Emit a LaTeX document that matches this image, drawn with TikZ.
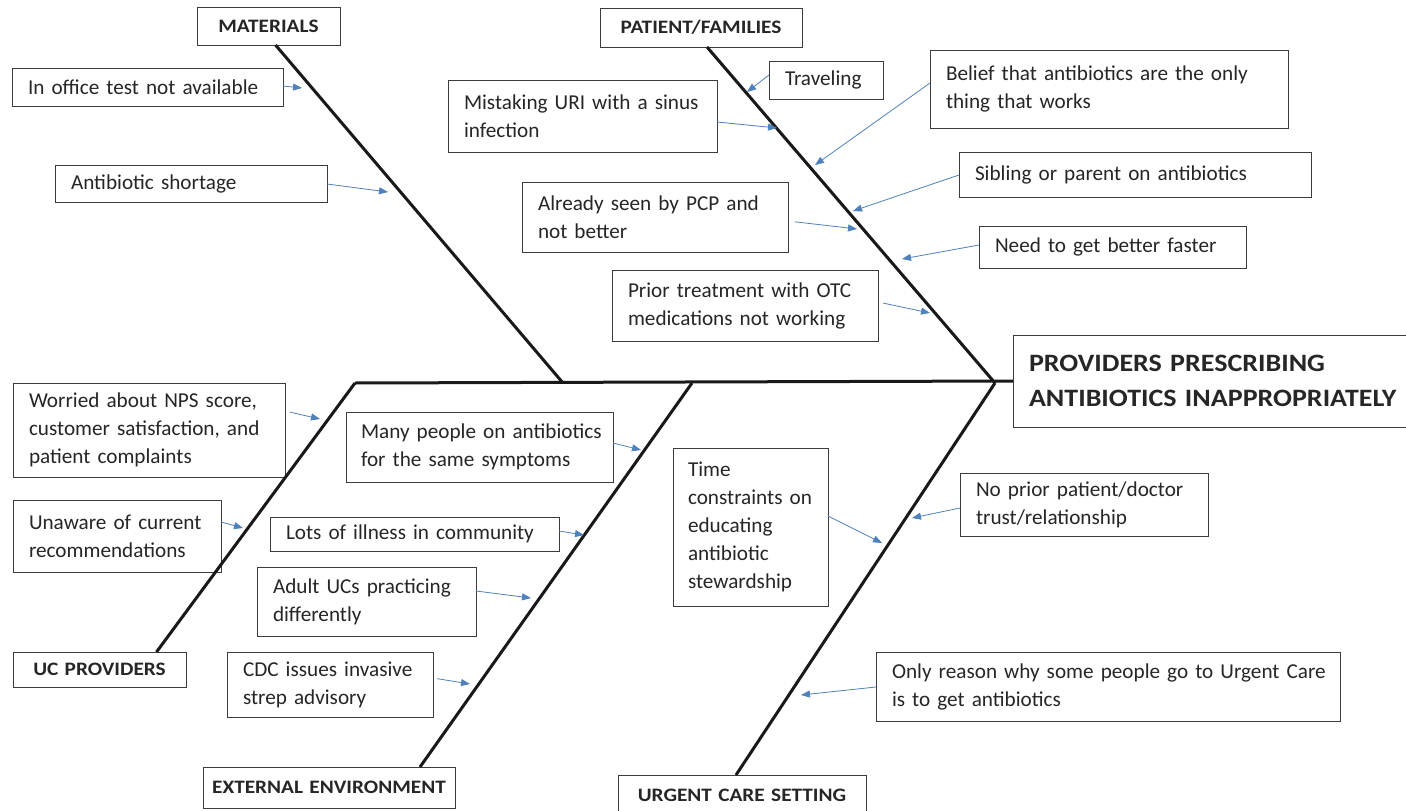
\documentclass[tikz,border=0pt]{standalone}
\usepackage{fontspec}
\setmainfont{Carlito}
\newfontfamily\lblfont{Carlito}[FakeStretch=1.12]
\usetikzlibrary{arrows.meta}
\definecolor{arr}{RGB}{79,129,189}
\definecolor{edgec}{RGB}{60,60,60}
\hyphenpenalty=10000
\exhyphenpenalty=10000
\hbadness=10000
\hfuzz=50pt
\begin{document}
\begin{tikzpicture}[x=1pt,y=-1pt,
  box/.style={draw=edgec, line width=1pt, outer sep=0pt, inner xsep=16pt, inner ysep=0pt,
    anchor=north west, align=left, text=black!85, font=\fontsize{21.2}{28}\selectfont},
  lbl/.style={box, inner xsep=0pt, align=center, font=\lblfont\bfseries\fontsize{19}{24}\selectfont},
  bone/.style={line width=3pt, black!90},
  cause/.style={-{Triangle[length=9pt,width=7pt]}, arr, line width=0.8pt}]
\useasboundingbox (0,0) rectangle (1406,811);
\fill[white] (0,0) rectangle (1406,811);

% category labels
\node[lbl, minimum width=143pt, minimum height=38pt, text width=143pt] (materials) at (197,7) {MATERIALS};
\node[lbl, minimum width=202pt, minimum height=39pt, text width=202pt] (patient) at (600,8) {PATIENT/FAMILIES};
\node[lbl, minimum width=173pt, minimum height=35pt, text width=173pt] (ucprov) at (13,652) {UC PROVIDERS};
\node[lbl, minimum width=252pt, minimum height=41pt, text width=252pt] (extenv) at (203,767) {EXTERNAL ENVIRONMENT};
\node[lbl, minimum width=248pt, minimum height=40pt, text width=248pt] (urgent) at (618,775) {URGENT CARE SETTING};

% effect
\node[box, minimum width=400pt, minimum height=92pt, text width=368pt,
  font=\lblfont\bfseries\fontsize{25}{35}\selectfont] (effect) at (1013,335)
  {PROVIDERS PRESCRIBING\\ANTIBIOTICS INAPPROPRIATELY};

% causes
\node[box, minimum width=271pt, minimum height=38pt, text width=239pt] (inoffice) at (12,68) {In office test not available};
\node[box, minimum width=272pt, minimum height=37pt, text width=240pt] (shortage) at (55,165) {Antibiotic shortage};
\node[box, minimum width=114pt, minimum height=38pt, text width=82pt] (travel) at (769,61) {Traveling};
\node[box, minimum width=269pt, minimum height=72pt, text width=237pt] (mistake) at (448,80) {\mbox{Mistaking URI with a sinus}\\infection};
\node[box, minimum width=358pt, minimum height=78pt, text width=326pt] (belief) at (930,50) {\mbox{Belief that antibiotics are the only}\\thing that works};
\node[box, minimum width=352pt, minimum height=45pt, text width=320pt] (sibling) at (959,152) {Sibling or parent on antibiotics};
\node[box, minimum width=266pt, minimum height=70pt, text width=234pt] (already) at (522,182) {\mbox{Already seen by PCP and}\\not better};
\node[box, minimum width=267pt, minimum height=42pt, text width=235pt] (need) at (979,226) {Need to get better faster};
\node[box, minimum width=266pt, minimum height=71pt, text width=234pt] (prior) at (612,270) {\mbox{Prior treatment with OTC}\\\mbox{medications not working}};
\node[box, minimum width=272pt, minimum height=94pt, text width=240pt] (worried) at (13,383) {\mbox{Worried about NPS score,}\\\mbox{customer satisfaction, and}\\patient complaints};
\node[box, minimum width=208pt, minimum height=72pt, text width=176pt] (unaware) at (13,500) {\mbox{Unaware of current}\\recommendations};
\node[box, minimum width=267pt, minimum height=70pt, text width=237pt, inner xsep=15pt] (many) at (346,412) {\mbox{Many people on antibiotics}\\\mbox{for the same symptoms}};
\node[box, minimum width=289pt, minimum height=34pt, text width=257pt] (lots) at (270,517) {Lots of illness in community};
\node[box, minimum width=219pt, minimum height=69pt, text width=187pt] (adult) at (257,567) {\mbox{Adult UCs practicing}\\differently};
\node[box, minimum width=206pt, minimum height=65pt, text width=174pt] (cdc) at (227,652) {\mbox{CDC issues invasive}\\strep advisory};
\node[box, minimum width=155pt, minimum height=158pt, text width=125pt, inner xsep=15pt] (time) at (673,448) {Time\\\mbox{constraints on}\\educating\\antibiotic\\stewardship};
\node[box, minimum width=248pt, minimum height=63pt, text width=216pt] (noprior) at (960,473) {\mbox{No prior patient/doctor}\\trust/relationship};
\node[box, minimum width=464pt, minimum height=69pt, text width=432pt] (only) at (876,652) {\mbox{Only reason why some people go to Urgent Care}\\is to get antibiotics};

% spine and bones
\coordinate (sp0) at (355,383);
\coordinate (j1) at (563,383);
\coordinate (j2) at (692,383);
\coordinate (head) at (995,383);
\draw[bone] (sp0) -- (effect.west);
\draw[bone] ([xshift=7pt]materials.south) -- (j1);
\draw[bone] ([xshift=6pt]patient.south) -- (head);
\draw[bone] ([xshift=57pt]ucprov.north) -- (sp0);
\draw[bone] ([xshift=91pt]extenv.north) -- (j2);
\draw[bone] ([xshift=-6pt]urgent.north) -- (head);

% arrow tips
\coordinate (t1) at (302,88);
\coordinate (t2) at (388,192);
\coordinate (t3) at (747,92);
\coordinate (t4) at (777,128);
\coordinate (t5) at (815,165);
\coordinate (t6) at (853,211);
\coordinate (t7) at (857,229);
\coordinate (t8) at (902,259);
\coordinate (t9) at (930,313);
\coordinate (t10) at (320,419);
\coordinate (t11) at (243,528);
\coordinate (t12) at (641,450);
\coordinate (t13) at (584,535);
\coordinate (t14) at (531,598);
\coordinate (t15) at (470,684);
\coordinate (t16) at (882,543);
\coordinate (t17) at (912,518);
\coordinate (t18) at (801,695);

\draw[cause] (inoffice.east |- 0,86) -- (t1);
\draw[cause] (shortage.east |- 0,184) -- (t2);
\draw[cause] (travel.west |- 0,75) -- (t3);
\draw[cause] (mistake.east |- 0,122) -- (t4);
\draw[cause] (belief.west |- 0,83) -- (t5);
\draw[cause] (sibling.west |- 0,175) -- (t6);
\draw[cause, shorten <=7pt] (already.east |- 0,221) -- (t7);
\draw[cause] (need.west |- 0,245) -- (t8);
\draw[cause, shorten <=5pt] (prior.east |- 0,302) -- (t9);
\draw[cause, shorten <=5pt] (worried.east |- 0,411) -- (t10);
\draw[cause] (unaware.east |- 0,522) -- (t11);
\draw[cause] (many.east |- 0,443) -- (t12);
\draw[cause] (lots.east |- 0,531) -- (t13);
\draw[cause] (adult.east |- 0,591) -- (t14);
\draw[cause, shorten <=4pt] (cdc.east |- 0,678) -- (t15);
\draw[cause] (time.east |- 0,516) -- (t16);
\draw[cause] (noprior.west |- 0,508) -- (t17);
\draw[cause] (only.west |- 0,687) -- (t18);
\end{tikzpicture}
\end{document}
